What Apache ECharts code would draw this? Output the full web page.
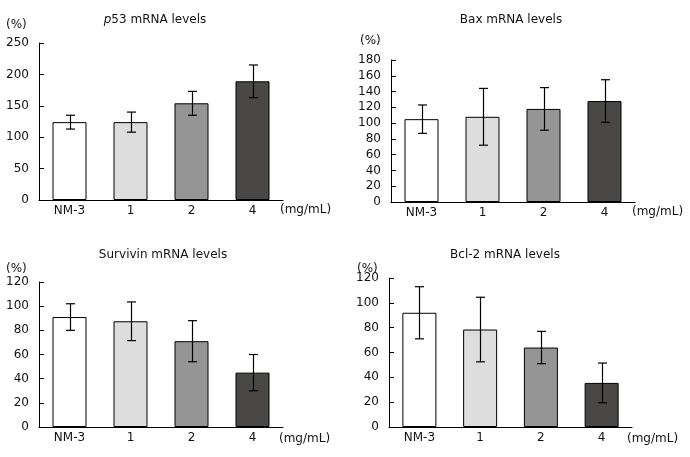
<!DOCTYPE html>
<html><head><meta charset="utf-8">
<script src="https://cdn.jsdelivr.net/npm/echarts@6/dist/echarts.min.js"></script>
<style>html,body{margin:0;padding:0;background:#fff}#c{width:690px;height:457px}</style>
</head><body><div id="c"></div>
<script>
const categories = ['NM-3', '1', '2', '4'];
const barColors = ['#ffffff', '#dcdddc', '#959595', '#4a4846'];

const p53Mean = [124, 124, 154, 189];
const p53Err = [11, 16, 19, 26];
const baxMean = [105, 108, 118, 128];
const baxErr = [18, 36, 27, 27];
const survivinMean = [91, 87.5, 71, 45];
const survivinErr = [11, 16, 17, 15];
const bcl2Mean = [92, 78.5, 64, 35.5];
const bcl2Err = [21, 26, 13, 16];

const panels = [
  {title: '{i|p}53 mRNA levels', mean: p53Mean, err: p53Err, max: 250, interval: 50,
   grid: {left: 39, top: 43, width: 244, height: 157}, titlePos: [150, 9], pct: [17, 27], unit: [280, 212]},
  {title: 'Bax mRNA levels', mean: baxMean, err: baxErr, max: 180, interval: 20,
   grid: {left: 391, top: 60, width: 244, height: 142}, titlePos: [506, 9], pct: [371, 43], unit: [632, 214]},
  {title: 'Survivin mRNA levels', mean: survivinMean, err: survivinErr, max: 120, interval: 20,
   grid: {left: 39, top: 282, width: 244, height: 145}, titlePos: [158, 244], pct: [17, 271], unit: [279, 441]},
  {title: 'Bcl-2 mRNA levels', mean: bcl2Mean, err: bcl2Err, max: 120, interval: 20,
   grid: {left: 389, top: 278, width: 243, height: 149}, titlePos: [500, 244], pct: [368, 271], unit: [627, 441]}
];

const font = 'DejaVu Sans';
const txt = '#111';
const option = {
  backgroundColor: '#fff',
  animation: false,
  title: [], grid: [], xAxis: [], yAxis: [], series: [], graphic: []
};

panels.forEach((p, i) => {
  option.title.push({
    text: p.title, left: p.titlePos[0], top: p.titlePos[1], textAlign: 'center',
    textStyle: {fontFamily: font, fontSize: 12, fontWeight: 'normal', color: txt,
      rich: {i: {fontFamily: font, fontSize: 12, fontStyle: 'italic', color: txt}}}
  });
  option.grid.push(p.grid);
  option.xAxis.push({
    type: 'category', gridIndex: i, data: categories,
    axisLine: {lineStyle: {color: '#000', width: 1}},
    axisTick: {inside: true, length: 4, lineStyle: {color: '#000'}},
    axisLabel: {fontFamily: font, fontSize: 12, color: txt, margin: 5}
  });
  option.yAxis.push({
    type: 'value', gridIndex: i, min: 0, max: p.max, interval: p.interval,
    splitLine: {show: false},
    axisLine: {show: true, lineStyle: {color: '#000', width: 1}},
    axisTick: {show: true, inside: true, length: 5, lineStyle: {color: '#000'}},
    axisLabel: {fontFamily: font, fontSize: 12, color: txt, margin: 10}
  });
  option.series.push({
    type: 'bar', xAxisIndex: i, yAxisIndex: i, barWidth: 34,
    data: p.mean.map((v, k) => ({value: v, itemStyle: {color: barColors[k]}})),
    itemStyle: {borderColor: '#000', borderWidth: 1}
  });
  option.series.push({
    type: 'custom', xAxisIndex: i, yAxisIndex: i, z: 10,
    data: p.mean.map((v, k) => [k, v - p.err[k], v + p.err[k]]),
    renderItem: function (params, api) {
      const lo = api.coord([api.value(0), api.value(1)]);
      const hi = api.coord([api.value(0), api.value(2)]);
      const x = Math.round(lo[0]) + 0.5, w = 4.5;
      const st = {stroke: '#000', lineWidth: 1.2};
      return {type: 'group', children: [
        {type: 'line', shape: {x1: x, y1: hi[1], x2: x, y2: lo[1]}, style: st},
        {type: 'line', shape: {x1: x - w, y1: hi[1], x2: x + w, y2: hi[1]}, style: st},
        {type: 'line', shape: {x1: x - w, y1: lo[1], x2: x + w, y2: lo[1]}, style: st}
      ]};
    }
  });
  option.graphic.push({type: 'text', left: p.pct[0] - 11, top: p.pct[1] - 8,
    style: {text: '(%)', font: '12px "DejaVu Sans"', fill: txt}});
  option.graphic.push({type: 'text', left: p.unit[0], top: p.unit[1] - 8,
    style: {text: '(mg/mL)', font: '12px "DejaVu Sans"', fill: txt}});
});

const chart = echarts.init(document.getElementById('c'), null, {renderer: 'canvas'});
chart.setOption(option);
</script>
</body></html>
